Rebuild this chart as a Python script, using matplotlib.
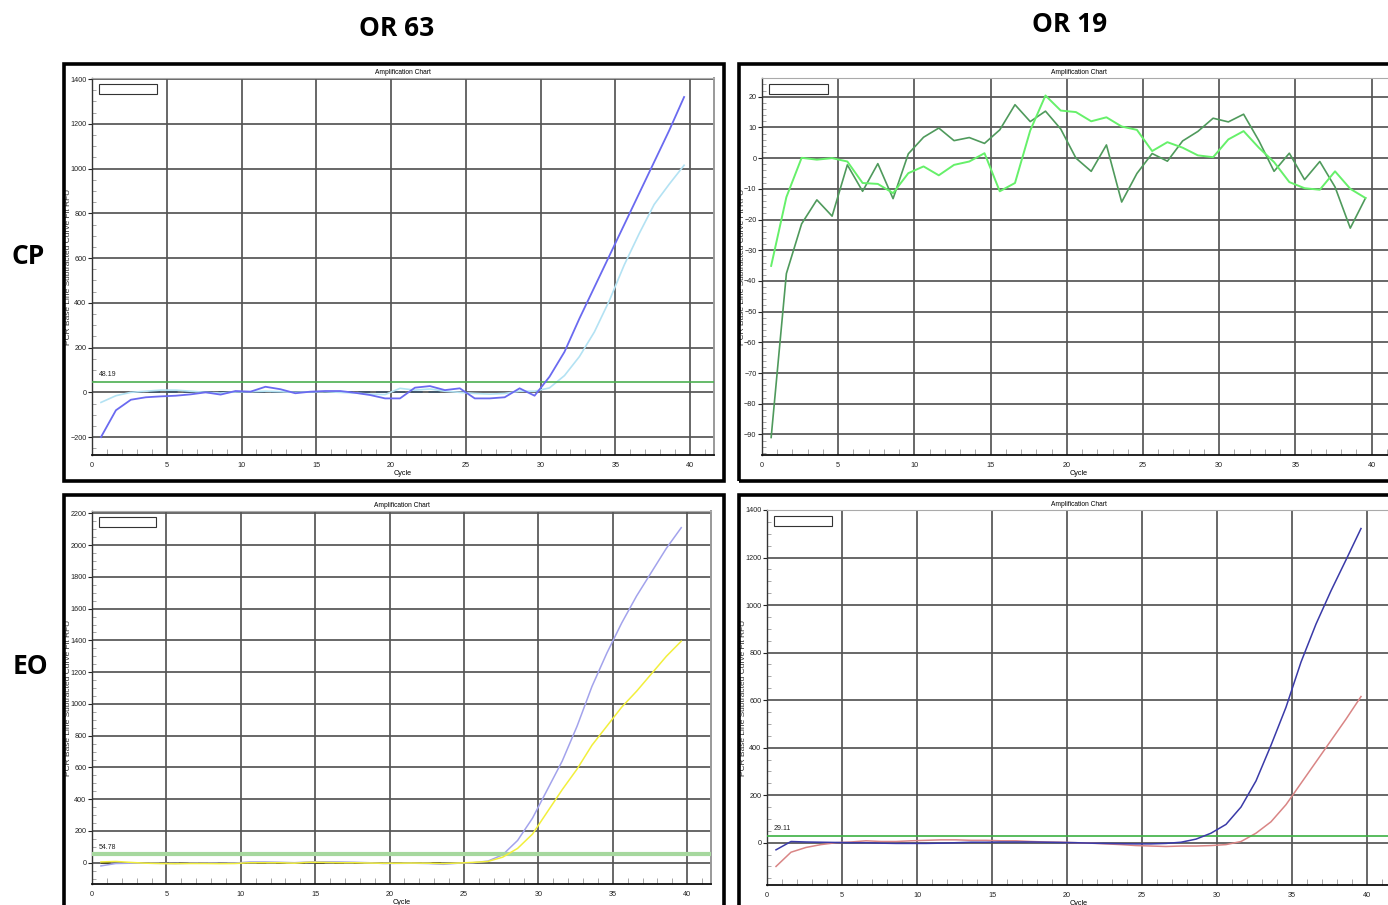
import numpy as np
import matplotlib
matplotlib.use("Agg")
import matplotlib.pyplot as plt
from matplotlib.patches import Rectangle
from matplotlib.ticker import MultipleLocator, FixedLocator

# ---------------- data ----------------
cycles = np.arange(1, 41)
x_offset = 0.4  # curves are drawn at cycle - 0.4

col_titles = ["OR 63", "OR 19"]
row_titles = ["CP", "EO"]

# CP / OR 63
cp63_blue = [-200, -80, -33, -22, -18, -15, -9, 0, -10, 6, 3, 25, 14, -4, 3, 6, 6, -2, -12, -27,
             -27, 21, 28, 10, 18, -27, -27, -22, 18, -15, 70, 181, 330, 470, 610, 750, 890, 1030, 1170, 1320]
cp63_cyan = [-45, -15, 0, 5, 10, 10, 5, 0, -3, 2, 3, 5, 3, 0, 2, 3, 0, -3, -8, -10,
             18, 10, 15, 5, 0, -5, -8, -5, 5, 5, 20, 75, 160, 270, 410, 570, 710, 840, 930, 1015]
cp63_thr = 48.19

# CP / OR 19
cp19_dark = [-91, -37.6, -21.4, -13.6, -18.9, -2.2, -10.8, -1.8, -13.2, 1.4, 6.8, 9.8, 5.7, 6.7, 4.8, 9.2,
             17.4, 11.9, 15.3, 9.5, 0, -4.3, 4.3, -14.3, -5, 1.5, -1, 5.6, 8.7, 13, 11.8, 14.3, 5.7, -4.3,
             1.6, -7, -1.1, -9.4, -22.8, -13]
cp19_light = [-35.1, -12.7, 0.1, -0.5, 0, -1.1, -8.1, -8.4, -11.4, -4.9, -2.7, -5.6, -2.2, -1.1, 1.6, -10.8,
              -8.1, 9, 20.4, 15.5, 15, 12, 13.3, 10.3, 9.2, 2.3, 5.2, 3.4, 0.9, 0.3, 6.1, 8.8, 3.4, -1.3,
              -7.8, -9.8, -10.3, -4.3, -10, -13]

# EO / OR 63
eo63_lav = [-20, -5, -3, -3, -4, -5, -3, -2, -3, -2, 5, 5, 3, 0, 5, 6, 5, 3, 0, -5,
            -4, -3, -5, -10, -3, 0, 10, 50, 140, 280, 460, 640, 860, 1110, 1320, 1510, 1680, 1830, 1980, 2110]
eo63_yel = [5, 8, 2, -3, -5, -6, -5, -5, -6, -5, 0, 0, 0, -3, 3, 2, 0, 0, -2, -3,
            -3, -2, -3, -5, -2, 2, 8, 35, 90, 180, 320, 460, 590, 740, 860, 980, 1080, 1190, 1300, 1395]
eo63_thr = 54.78

# EO / OR 19
eo19_blue = [-30, 5, 3, 2, 1, 0, 0, -2, -3, -3, -3, -2, 0, 2, 2, 3, 3, 3, 2, 1,
             0, -2, -3, -4, -5, -5, -3, 2, 15, 40, 77, 150, 260, 410, 570, 760, 920, 1060, 1190, 1322]
eo19_red = [-100, -40, -20, -8, 0, 3, 8, 5, 5, 8, 10, 12, 12, 10, 10, 8, 8, 5, 3, 2,
            0, -2, -5, -8, -12, -14, -16, -14, -14, -12, -8, 5, 40, 88, 160, 250, 340, 430, 520, 615]
eo19_thr = 29.11

# baseline (hidden dark series visible as dashes along zero)
cp63_base = [0] * 22
cp63_base_cycles = np.arange(3, 25)
eo63_base = [0] * 24
eo63_base_cycles = np.arange(1, 25)

# ---------------- figure ----------------
W, H = 1388, 905
fig = plt.figure(figsize=(W / 100, H / 100), dpi=100)
fig.patch.set_facecolor("white")

small_font = ["Liberation Sans Narrow", "Liberation Sans", "DejaVu Sans"]
label_font = ["Liberation Sans", "DejaVu Sans"]
big_font = ["Open Sans", "DejaVu Sans"]


def px_axes(l, t, r, b):
    return fig.add_axes([l / W, 1 - b / H, (r - l) / W, (b - t) / H])


def frame(l, t, r, b):
    fig.add_artist(Rectangle((l / W, 1 - b / H), (r - l) / W, (b - t) / H,
                             transform=fig.transFigure, fill=False, lw=2.6,
                             ec="black", zorder=10))


def style(ax, xlim, ylim, ymajor, yminor, ylab_x):
    ax.set_xlim(*xlim)
    ax.set_ylim(*ylim)
    ax.xaxis.set_major_locator(FixedLocator([0, 5, 10, 15, 20, 25, 30, 35, 40]))
    ax.xaxis.set_minor_locator(MultipleLocator(1))
    ax.yaxis.set_major_locator(FixedLocator(ymajor))
    ax.yaxis.set_minor_locator(MultipleLocator(yminor))
    ax.grid(True, which="major", color="#555555", lw=1.25, zorder=0)
    ax.tick_params(axis="y", which="major", direction="out", length=3, width=0.8,
                   labelsize=5.2, pad=1, colors="#222222")
    ax.tick_params(axis="y", which="minor", direction="in", length=3, width=0.6,
                   color="#999999")
    ax.tick_params(axis="x", which="major", direction="in", length=0, labelsize=5.2,
                   pad=5, colors="#222222")
    ax.tick_params(axis="x", which="minor", direction="in", length=4, width=0.6,
                   color="#999999")
    for lab in ax.get_xticklabels() + ax.get_yticklabels():
        lab.set_family(small_font)
    ax.spines["left"].set_color("#333333")
    ax.spines["left"].set_linewidth(1.0)
    ax.spines["bottom"].set_color("#111111")
    ax.spines["bottom"].set_linewidth(1.3)
    ax.spines["top"].set_color("#aaaaaa")
    ax.spines["top"].set_linewidth(0.8)
    ax.spines["right"].set_color("#999999")
    ax.spines["right"].set_linewidth(1.4)
    ax.set_title("Amplification Chart", fontsize=4.8, family=small_font, pad=3)
    ax.set_xlabel("Cycle", fontsize=5.2, family=small_font, labelpad=1)
    ax.set_ylabel("PCR Base Line Subtracted Curve Fit RFU", fontsize=6.0,
                  family=label_font, color="#333333", va="center")
    ax.yaxis.set_label_coords(ylab_x, 0.5)
    # empty legend box
    ax.add_patch(Rectangle((0.011, 0.958), 0.093, 0.026, transform=ax.transAxes,
                           fill=True, fc="white", ec="#333333", lw=0.8, zorder=5))


def threshold(ax, thr, color, lw):
    ax.axhline(thr, color=color, lw=lw, zorder=3)
    ax.annotate(f"{thr:.2f}", xy=(0.45, thr), xytext=(0, 2.5), textcoords="offset points",
                fontsize=5, family=small_font, ha="left", va="bottom", color="#222222")


xs = cycles - x_offset

# Panel CP / OR 63
ax1 = px_axes(92, 78, 714, 455)
style(ax1, (0, 41.6), (-280, 1405), list(range(-200, 1401, 200)), 50, -0.037)
ax1.plot(cp63_base_cycles - x_offset, cp63_base, color="#44586a", lw=1.4, ls=(0, (6, 3)), zorder=2)
ax1.plot(xs, cp63_cyan, color="#b3e2f3", lw=1.2, zorder=3)
ax1.plot(xs, cp63_blue, color="#6a6af0", lw=1.3, zorder=4)
threshold(ax1, cp63_thr, "#4caf50", 1.2)
frame(64, 64, 724, 481)

# Panel CP / OR 19
ax2 = px_axes(762, 78, 1396, 455)
style(ax2, (0, 41.6), (-96.7, 26.1), list(range(-90, 21, 10)), 2, -0.03)
ax2.plot(xs, cp19_dark, color="#4f9a5c", lw=1.2, zorder=3)
ax2.plot(xs, cp19_light, color="#66f06a", lw=1.4, zorder=4)
frame(739, 64, 1400, 481)

# Panel EO / OR 63
ax3 = px_axes(92, 511, 711, 884)
style(ax3, (0, 41.6), (-134, 2215), list(range(0, 2201, 200)), 50, -0.038)
ax3.plot(eo63_base_cycles - x_offset, eo63_base, color="#4d4a2a", lw=1.4, ls=(0, (5, 5)), zorder=2)
ax3.plot(xs, eo63_lav, color="#a3a3ec", lw=1.1, zorder=3)
ax3.plot(xs, eo63_yel, color="#f2ef3c", lw=1.1, zorder=4)
threshold(ax3, eo63_thr, "#a6d89e", 3.0)
frame(64, 495, 724, 915)

# Panel EO / OR 19
ax4 = px_axes(767, 510, 1391, 885)
style(ax4, (0, 41.6), (-178, 1400), list(range(0, 1401, 200)), 50, -0.038)
ax4.plot(xs, eo19_red, color="#d98585", lw=1.1, zorder=3)
ax4.plot(xs, eo19_blue, color="#3a3aa8", lw=1.1, zorder=4)
threshold(ax4, eo19_thr, "#3cb043", 1.2)
frame(739, 495, 1400, 915)

# Titles
fig.text(397 / W, 1 - 28 / H, col_titles[0], ha="center", va="center",
         fontsize=19, fontweight="bold", family=big_font)
fig.text(1070 / W, 1 - 25 / H, col_titles[1], ha="center", va="center",
         fontsize=19, fontweight="bold", family=big_font)
fig.text(28 / W, 1 - 257 / H, row_titles[0], ha="center", va="center",
         fontsize=19, fontweight="bold", family=big_font)
fig.text(30 / W, 1 - 666 / H, row_titles[1], ha="center", va="center",
         fontsize=19, fontweight="bold", family=big_font)

fig.savefig("out.png", dpi=100)
